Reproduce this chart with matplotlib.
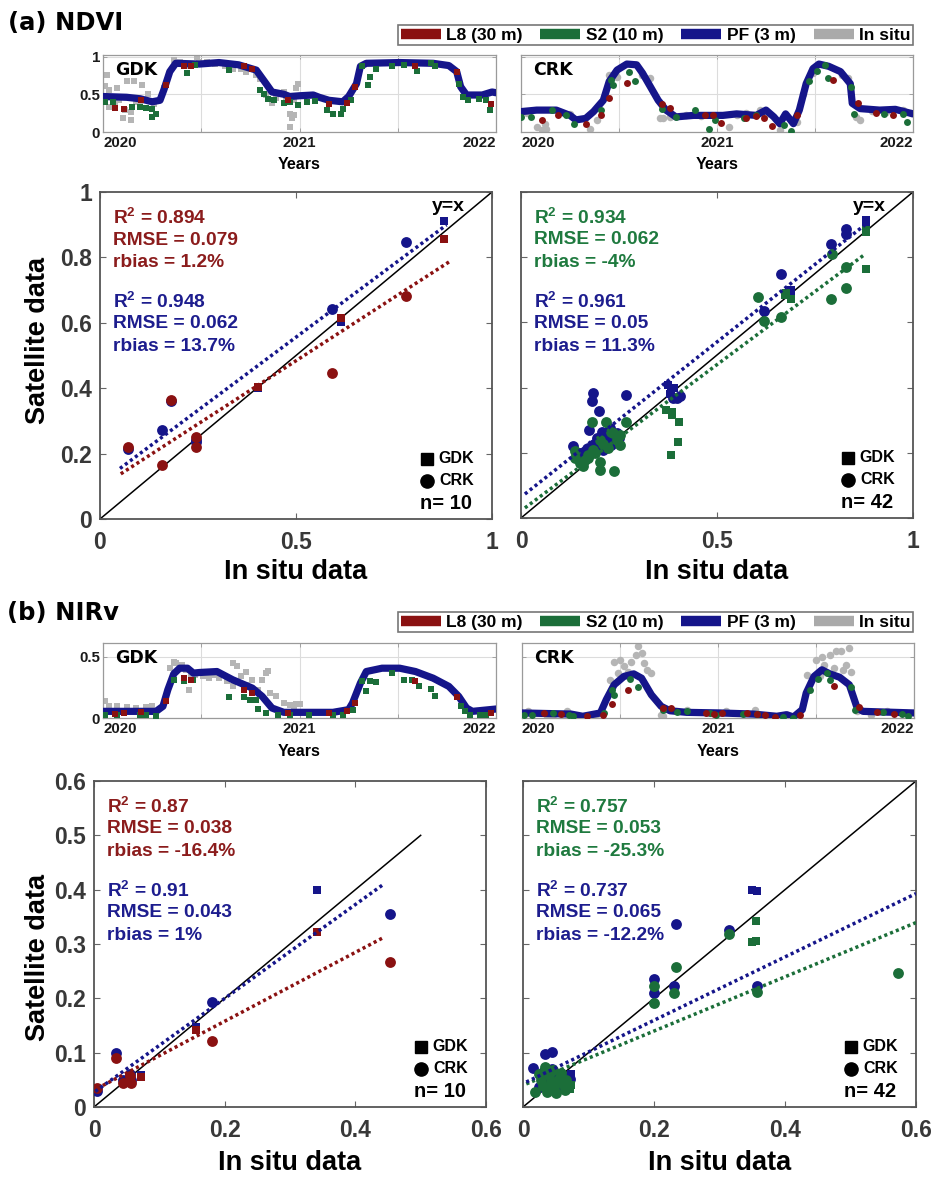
import numpy as np
import matplotlib
matplotlib.use("Agg")
import matplotlib.pyplot as plt
from matplotlib.lines import Line2D

plt.rcParams['font.family'] = ['Liberation Sans', 'DejaVu Sans']
plt.rcParams['font.weight'] = 'bold'
plt.rcParams['mathtext.fontset'] = 'custom'
plt.rcParams['mathtext.rm'] = 'Liberation Sans:bold'
plt.rcParams['mathtext.it'] = 'Liberation Sans:bold'
plt.rcParams['mathtext.bf'] = 'Liberation Sans:bold'

# ── colours ──
RED = '#8a1111'
BLUE = '#15158a'
GREEN = '#1b6e39'
GRAY = '#b5b5b5'
TXT_RED = '#8b1c1c'
TXT_BLUE = '#1d1d8e'
TXT_GREEN = '#1f7a3f'

# ── legend ──
SENSORS = ['L8 (30 m)', 'S2 (10 m)', 'PF (3 m)', 'In situ']

# ──────────────────────────────────────────────
# Time series (decimal year, value)
# ──────────────────────────────────────────────
NDVI_GDK_PF = [(2020.00, 0.47), (2020.12, 0.46), (2020.19, 0.44), (2020.25, 0.40), (2020.29, 0.42),
               (2020.31, 0.56), (2020.34, 0.80), (2020.37, 0.91), (2020.49, 0.90), (2020.59, 0.92),
               (2020.69, 0.89), (2020.78, 0.82), (2020.83, 0.64), (2020.86, 0.53), (2020.92, 0.50),
               (2020.95, 0.47), (2021.00, 0.48), (2021.07, 0.49), (2021.10, 0.46), (2021.15, 0.42),
               (2021.22, 0.40), (2021.25, 0.47), (2021.29, 0.64), (2021.31, 0.87), (2021.34, 0.91),
               (2021.51, 0.92), (2021.68, 0.91), (2021.76, 0.88), (2021.80, 0.80), (2021.82, 0.60),
               (2021.85, 0.49), (2021.93, 0.49), (2021.98, 0.53), (2022.00, 0.52)]
NDVI_GDK_S2 = [(2020.01, 0.40), (2020.05, 0.40), (2020.15, 0.33), (2020.19, 0.33), (2020.22, 0.32),
               (2020.25, 0.30), (2020.25, 0.20), (2020.27, 0.24), (2020.43, 0.78), (2020.47, 0.89),
               (2020.64, 0.82), (2020.80, 0.56), (2020.82, 0.50), (2020.84, 0.44), (2020.87, 0.42),
               (2020.92, 0.38), (2020.95, 0.40), (2020.99, 0.36), (2021.04, 0.40), (2021.08, 0.41),
               (2021.14, 0.29), (2021.17, 0.24), (2021.21, 0.24), (2021.22, 0.30), (2021.26, 0.43),
               (2021.32, 0.88), (2021.35, 0.62), (2021.36, 0.73), (2021.39, 0.83), (2021.47, 0.88),
               (2021.53, 0.89), (2021.60, 0.81), (2021.67, 0.91), (2021.69, 0.87), (2021.81, 0.64),
               (2021.83, 0.46), (2021.86, 0.43), (2021.915, 0.44), (2021.95, 0.42), (2021.97, 0.29)]
NDVI_GDK_L8 = [(2020.06, 0.32), (2020.105, 0.31), (2020.195, 0.42), (2020.32, 0.62), (2020.41, 0.88),
               (2020.45, 0.88), (2020.72, 0.88), (2020.76, 0.84), (2020.94, 0.42), (2021.15, 0.37),
               (2021.24, 0.39), (2021.28, 0.59), (2021.59, 0.88), (2021.80, 0.79), (2021.975, 0.37)]
NDVI_GDK_INSITU = [(2020.02, 0.76), (2020.01, 0.61), (2020.03, 0.56), (2020.07, 0.58), (2020.085, 0.47),
                   (2020.12, 0.67), (2020.16, 0.67), (2020.11, 0.29), (2020.10, 0.18), (2020.14, 0.16),
                   (2020.14, 0.27), (2020.03, 0.33), (2020.06, 0.38), (2020.19, 0.38), (2020.20, 0.62),
                   (2020.23, 0.51), (2020.31, 0.58), (2020.36, 0.96), (2020.39, 0.93), (2020.48, 0.99),
                   (2020.49, 0.93), (2020.53, 0.93), (2020.57, 0.90), (2020.62, 0.87), (2020.66, 0.84),
                   (2020.70, 0.83), (2020.73, 0.80), (2020.78, 0.76), (2020.80, 0.70), (2020.83, 0.49),
                   (2020.86, 0.38), (2020.92, 0.53), (2020.97, 0.42), (2020.95, 0.24), (2020.96, 0.18),
                   (2020.95, 0.07), (2020.97, 0.22), (2020.99, 0.64), (2020.98, 0.58), (2020.93, 0.47),
                   (2020.08, 0.42), (2020.17, 0.40), (2020.26, 0.37), (2020.44, 0.88), (2020.88, 0.45)]

NDVI_CRK_PF = [(2020.00, 0.27), (2020.08, 0.29), (2020.18, 0.29), (2020.25, 0.22), (2020.28, 0.16),
               (2020.33, 0.18), (2020.37, 0.27), (2020.42, 0.42), (2020.45, 0.67), (2020.49, 0.82),
               (2020.54, 0.90), (2020.59, 0.89), (2020.62, 0.78), (2020.66, 0.60), (2020.70, 0.42),
               (2020.74, 0.29), (2020.79, 0.20), (2020.88, 0.22), (2020.96, 0.22), (2021.03, 0.22),
               (2021.10, 0.24), (2021.20, 0.22), (2021.25, 0.29), (2021.29, 0.20), (2021.32, 0.11),
               (2021.35, 0.24), (2021.39, 0.11), (2021.42, 0.29), (2021.455, 0.64), (2021.49, 0.84),
               (2021.52, 0.90), (2021.57, 0.87), (2021.63, 0.80), (2021.68, 0.64), (2021.69, 0.38),
               (2021.73, 0.31), (2021.83, 0.29), (2021.91, 0.30), (2022.00, 0.24)]
NDVI_CRK_S2 = [(2020.00, 0.20), (2020.05, 0.20), (2020.16, 0.29), (2020.23, 0.22), (2020.27, 0.11),
               (2020.41, 0.29), (2020.46, 0.69), (2020.47, 0.62), (2020.55, 0.79), (2020.58, 0.68),
               (2020.72, 0.30), (2020.79, 0.20), (2020.89, 0.29), (2020.96, 0.04), (2020.99, 0.16),
               (2021.14, 0.18), (2021.20, 0.22), (2021.34, 0.09), (2021.38, 0.01), (2021.47, 0.68),
               (2021.51, 0.81), (2021.55, 0.89), (2021.565, 0.71), (2021.685, 0.60), (2021.70, 0.24),
               (2021.85, 0.24), (2021.95, 0.24), (2021.97, 0.13)]
NDVI_CRK_L8 = [(2020.105, 0.16), (2020.19, 0.22), (2020.33, 0.11), (2020.41, 0.22), (2020.45, 0.45),
               (2020.54, 0.65), (2020.72, 0.37), (2020.76, 0.32), (2020.94, 0.22), (2020.98, 0.22),
               (2021.02, 0.12), (2021.15, 0.18), (2021.20, 0.21), (2021.24, 0.18), (2021.28, 0.08),
               (2021.41, 0.22), (2021.59, 0.69), (2021.72, 0.38), (2021.81, 0.25), (2021.90, 0.22)]
NDVI_CRK_INSITU = [(2020.08, 0.07), (2020.105, 0.02), (2020.13, 0.04), (2020.12, 0.10), (2020.35, 0.04),
                   (2020.39, 0.16), (2020.45, 0.76), (2020.49, 0.73), (2020.615, 0.76), (2020.66, 0.71),
                   (2020.71, 0.18), (2020.725, 0.18), (2020.76, 0.20), (2021.06, 0.07), (2021.22, 0.29),
                   (2021.25, 0.24), (2021.32, 0.02), (2021.41, 0.13), (2021.44, 0.51), (2021.49, 0.78),
                   (2021.64, 0.76), (2021.67, 0.71), (2021.71, 0.20), (2021.73, 0.16), (2021.86, 0.27),
                   (2021.95, 0.29), (2020.03, 0.25), (2020.20, 0.27), (2020.25, 0.24), (2020.84, 0.23),
                   (2020.92, 0.21), (2021.10, 0.22), (2021.15, 0.25), (2021.79, 0.28), (2021.99, 0.25)]

NIRV_GDK_PF = [(2020.00, 0.054), (2020.15, 0.054), (2020.27, 0.054), (2020.305, 0.095), (2020.33, 0.23),
               (2020.36, 0.359), (2020.39, 0.405), (2020.43, 0.405), (2020.46, 0.365), (2020.49, 0.37),
               (2020.58, 0.378), (2020.66, 0.311), (2020.76, 0.243), (2020.81, 0.176), (2020.86, 0.081),
               (2020.92, 0.046), (2021.00, 0.046), (2021.17, 0.046), (2021.25, 0.068), (2021.27, 0.122),
               (2021.31, 0.284), (2021.34, 0.378), (2021.42, 0.405), (2021.51, 0.405), (2021.59, 0.378),
               (2021.68, 0.324), (2021.76, 0.257), (2021.81, 0.176), (2021.85, 0.081), (2021.88, 0.054),
               (2022.00, 0.073)]
NIRV_GDK_S2 = [(2020.01, 0.027), (2020.07, 0.027), (2020.19, 0.027), (2020.22, 0.022), (2020.27, 0.019),
               (2020.36, 0.311), (2020.41, 0.305), (2020.46, 0.311), (2020.64, 0.170), (2020.72, 0.168),
               (2020.75, 0.143), (2020.78, 0.149), (2020.79, 0.073), (2020.83, 0.041), (2020.89, 0.027),
               (2020.95, 0.027), (2021.05, 0.027), (2021.17, 0.027), (2021.22, 0.027), (2021.27, 0.068),
               (2021.32, 0.297), (2021.34, 0.222), (2021.36, 0.297), (2021.39, 0.292), (2021.47, 0.370),
               (2021.53, 0.311), (2021.57, 0.311), (2021.61, 0.262), (2021.67, 0.235), (2021.69, 0.176),
               (2021.82, 0.095), (2021.84, 0.054), (2021.87, 0.027), (2021.92, 0.027), (2021.95, 0.027)]
NIRV_GDK_L8 = [(2020.06, 0.035), (2020.105, 0.041), (2020.195, 0.049), (2020.32, 0.135), (2020.41, 0.324),
               (2020.45, 0.311), (2020.72, 0.224), (2020.76, 0.203), (2020.94, 0.041), (2021.15, 0.041),
               (2021.24, 0.054), (2021.28, 0.122), (2021.59, 0.303), (2021.80, 0.170), (2021.975, 0.041)]
NIRV_GDK_INSITU = [(2020.01, 0.135), (2020.03, 0.095), (2020.07, 0.095), (2020.12, 0.089), (2020.17, 0.081),
                   (2020.22, 0.089), (2020.25, 0.095), (2020.36, 0.459), (2020.37, 0.446), (2020.40, 0.432),
                   (2020.42, 0.392), (2020.45, 0.338), (2020.44, 0.230), (2020.47, 0.351), (2020.51, 0.338),
                   (2020.54, 0.324), (2020.59, 0.324), (2020.66, 0.446), (2020.68, 0.419), (2020.73, 0.378),
                   (2020.63, 0.297), (2020.66, 0.257), (2020.73, 0.270), (2020.76, 0.311), (2020.81, 0.311),
                   (2020.83, 0.365), (2020.84, 0.384), (2020.79, 0.230), (2020.85, 0.203), (2020.88, 0.176),
                   (2020.92, 0.122), (2020.95, 0.108), (2020.98, 0.116), (2020.97, 0.081), (2021.00, 0.116),
                   (2020.34, 0.405), (2020.56, 0.351), (2020.70, 0.340)]

NIRV_CRK_PF = [(2020.00, 0.041), (2020.25, 0.032), (2020.31, 0.014), (2020.40, 0.041), (2020.43, 0.149),
               (2020.47, 0.270), (2020.52, 0.338), (2020.57, 0.359), (2020.61, 0.324), (2020.64, 0.243),
               (2020.66, 0.189), (2020.71, 0.095), (2020.755, 0.059), (2020.84, 0.046), (2021.01, 0.041),
               (2021.18, 0.032), (2021.30, 0.014), (2021.35, 0.027), (2021.385, 0.008), (2021.43, 0.068),
               (2021.45, 0.203), (2021.49, 0.338), (2021.53, 0.392), (2021.57, 0.359), (2021.62, 0.332),
               (2021.67, 0.270), (2021.69, 0.176), (2021.71, 0.081), (2021.74, 0.054), (2022.00, 0.041)]
NIRV_CRK_S2 = [(2020.01, 0.027), (2020.05, 0.027), (2020.16, 0.041), (2020.24, 0.027), (2020.26, 0.014),
               (2020.42, 0.041), (2020.46, 0.230), (2020.47, 0.189), (2020.55, 0.319), (2020.59, 0.251),
               (2020.72, 0.062), (2020.79, 0.046), (2020.84, 0.054), (2020.96, 0.041), (2020.99, 0.027),
               (2021.13, 0.032), (2021.20, 0.032), (2021.33, 0.008), (2021.385, 0.002), (2021.47, 0.224),
               (2021.51, 0.316), (2021.555, 0.370), (2021.57, 0.311), (2021.68, 0.251), (2021.70, 0.062),
               (2021.84, 0.046), (2021.94, 0.035), (2021.97, 0.014)]
NIRV_CRK_L8 = [(2020.11, 0.041), (2020.20, 0.032), (2020.33, 0.014), (2020.415, 0.027), (2020.46, 0.116),
               (2020.54, 0.224), (2020.72, 0.081), (2020.76, 0.081), (2020.94, 0.041), (2020.98, 0.032),
               (2021.02, 0.041), (2021.15, 0.041), (2021.20, 0.032), (2021.24, 0.027), (2021.29, 0.008),
               (2021.42, 0.027), (2021.59, 0.262), (2021.72, 0.086), (2021.81, 0.049), (2021.90, 0.035)]
NIRV_CRK_INSITU = [(2020.47, 0.459), (2020.50, 0.473), (2020.52, 0.419), (2020.555, 0.459), (2020.59, 0.589),
                   (2020.61, 0.527), (2020.58, 0.514), (2020.62, 0.446), (2020.64, 0.392), (2020.66, 0.365),
                   (2020.54, 0.378), (2020.49, 0.365), (2020.45, 0.311), (2020.71, 0.027), (2020.72, 0.014),
                   (2020.03, 0.054), (2020.13, 0.014), (2020.16, 0.027), (2020.23, 0.054), (2020.37, 0.000),
                   (2020.38, 0.027), (2020.84, 0.068), (2021.04, 0.054), (2021.19, 0.068), (2021.35, 0.027),
                   (2021.455, 0.351), (2021.50, 0.473), (2021.53, 0.500), (2021.57, 0.514), (2021.60, 0.541),
                   (2021.63, 0.541), (2021.655, 0.432), (2021.67, 0.568), (2021.68, 0.378), (2021.54, 0.432),
                   (2021.59, 0.405), (2021.64, 0.392), (2021.52, 0.338), (2021.71, 0.054), (2021.78, 0.027),
                   (2021.86, 0.054), (2021.96, 0.041)]

# ──────────────────────────────────────────────
# Scatter data (in situ, satellite, site)  S = GDK, C = CRK
# ──────────────────────────────────────────────
SC_NDVI_GDK_L8 = [(0.072, 0.219, 'C'), (0.159, 0.165, 'C'), (0.180, 0.364, 'C'), (0.244, 0.252, 'C'),
                  (0.244, 0.219, 'C'), (0.402, 0.405, 'S'), (0.616, 0.614, 'S'), (0.593, 0.446, 'C'),
                  (0.781, 0.681, 'C'), (0.878, 0.857, 'S')]
SC_NDVI_GDK_PF = [(0.072, 0.213, 'C'), (0.159, 0.272, 'C'), (0.180, 0.360, 'C'), (0.244, 0.242, 'C'),
                  (0.244, 0.235, 'C'), (0.402, 0.402, 'S'), (0.616, 0.602, 'S'), (0.593, 0.643, 'C'),
                  (0.781, 0.846, 'C'), (0.878, 0.912, 'S')]
SC_NDVI_S2_PF = [(0.879, 0.913, 'S'), (0.828, 0.885, 'C'), (0.830, 0.870, 'C'), (0.792, 0.842, 'C'),
                 (0.664, 0.748, 'C'), (0.690, 0.692, 'S'), (0.673, 0.684, 'S'), (0.620, 0.636, 'C'),
                 (0.376, 0.408, 'S'), (0.382, 0.393, 'S'), (0.397, 0.367, 'C'), (0.388, 0.367, 'C'),
                 (0.183, 0.383, 'C'), (0.180, 0.360, 'C'), (0.268, 0.377, 'C'), (0.200, 0.329, 'C'),
                 (0.174, 0.270, 'C'), (0.206, 0.265, 'C'), (0.223, 0.250, 'C'), (0.133, 0.221, 'C'),
                 (0.142, 0.187, 'C'), (0.163, 0.204, 'C'), (0.210, 0.209, 'C'), (0.235, 0.240, 'C'),
                 (0.195, 0.245, 'C'), (0.150, 0.200, 'C'), (0.215, 0.230, 'C'), (0.245, 0.262, 'C'),
                 (0.170, 0.215, 'C'), (0.186, 0.228, 'C'), (0.228, 0.275, 'C'), (0.390, 0.400, 'S'),
                 (0.879, 0.905, 'S'), (0.690, 0.700, 'S'), (0.160, 0.195, 'C'), (0.205, 0.220, 'C'),
                 (0.250, 0.245, 'C'), (0.230, 0.225, 'C'), (0.380, 0.380, 'S'), (0.405, 0.375, 'C'),
                 (0.190, 0.205, 'C'), (0.240, 0.255, 'C')]
SC_NDVI_S2 = [(0.879, 0.883, 'S'), (0.879, 0.765, 'S'), (0.794, 0.811, 'C'), (0.828, 0.770, 'C'),
              (0.830, 0.707, 'C'), (0.790, 0.673, 'C'), (0.605, 0.679, 'C'), (0.673, 0.684, 'S'),
              (0.690, 0.673, 'S'), (0.620, 0.605, 'C'), (0.664, 0.617, 'C'), (0.371, 0.330, 'S'),
              (0.386, 0.316, 'S'), (0.403, 0.294, 'S'), (0.401, 0.233, 'S'), (0.382, 0.194, 'S'),
              (0.180, 0.293, 'C'), (0.218, 0.293, 'C'), (0.269, 0.293, 'C'), (0.235, 0.260, 'C'),
              (0.252, 0.255, 'C'), (0.201, 0.240, 'C'), (0.223, 0.214, 'C'), (0.252, 0.224, 'C'),
              (0.184, 0.209, 'C'), (0.172, 0.194, 'C'), (0.138, 0.204, 'C'), (0.138, 0.184, 'C'),
              (0.159, 0.158, 'C'), (0.163, 0.178, 'C'), (0.201, 0.173, 'C'), (0.201, 0.148, 'C'),
              (0.237, 0.143, 'C'), (0.210, 0.228, 'C'), (0.190, 0.200, 'C'), (0.245, 0.240, 'C'),
              (0.150, 0.170, 'C'), (0.880, 0.878, 'S'), (0.675, 0.690, 'S'), (0.385, 0.325, 'S'),
              (0.170, 0.185, 'C'), (0.230, 0.265, 'C')]

SC_NIRV_GDK_L8 = [(0.342, 0.323, 'S'), (0.453, 0.266, 'C'), (0.180, 0.121, 'C'), (0.156, 0.141, 'S'),
                  (0.072, 0.056, 'S'), (0.033, 0.090, 'C'), (0.005, 0.035, 'C'), (0.044, 0.045, 'C'),
                  (0.057, 0.044, 'C'), (0.055, 0.057, 'C')]
SC_NIRV_GDK_PF = [(0.342, 0.400, 'S'), (0.453, 0.355, 'C'), (0.180, 0.193, 'C'), (0.156, 0.148, 'S'),
                  (0.072, 0.058, 'S'), (0.033, 0.099, 'C'), (0.005, 0.029, 'C'), (0.044, 0.050, 'C'),
                  (0.057, 0.050, 'C'), (0.055, 0.060, 'C')]
SC_NIRV_S2_PF = [(0.350, 0.399, 'S'), (0.357, 0.397, 'S'), (0.233, 0.336, 'C'), (0.314, 0.325, 'C'),
                 (0.200, 0.235, 'C'), (0.200, 0.209, 'C'), (0.230, 0.223, 'C'), (0.358, 0.223, 'C'),
                 (0.033, 0.098, 'C'), (0.045, 0.101, 'C'), (0.016, 0.071, 'C'), (0.031, 0.064, 'C'),
                 (0.074, 0.061, 'S'), (0.071, 0.052, 'C'), (0.025, 0.037, 'C'), (0.040, 0.050, 'C'),
                 (0.050, 0.060, 'C'), (0.060, 0.045, 'C'), (0.035, 0.040, 'C'), (0.055, 0.035, 'C'),
                 (0.045, 0.070, 'C'), (0.065, 0.055, 'C')]
SC_NIRV_S2 = [(0.356, 0.342, 'S'), (0.350, 0.304, 'S'), (0.356, 0.305, 'S'), (0.314, 0.319, 'C'),
              (0.233, 0.257, 'C'), (0.230, 0.209, 'C'), (0.200, 0.223, 'C'), (0.200, 0.191, 'C'),
              (0.358, 0.212, 'C'), (0.572, 0.247, 'C'), (0.033, 0.074, 'C'), (0.046, 0.068, 'C'),
              (0.056, 0.055, 'C'), (0.028, 0.049, 'C'), (0.043, 0.046, 'C'), (0.061, 0.043, 'C'),
              (0.071, 0.034, 'S'), (0.018, 0.028, 'C'), (0.036, 0.028, 'C'), (0.051, 0.025, 'C'),
              (0.064, 0.031, 'C'), (0.040, 0.058, 'C'), (0.052, 0.048, 'C'), (0.030, 0.038, 'C'),
              (0.066, 0.050, 'C'), (0.074, 0.040, 'S'), (0.024, 0.060, 'C'), (0.048, 0.036, 'C'),
              (0.058, 0.062, 'C'), (0.038, 0.033, 'C')]

# regression lines: (slope, intercept, x_start, x_end)
FIT_NDVI_L8 = (0.774, 0.097, 0.053, 0.893)
FIT_NDVI_PF_A = (0.894, 0.109, 0.051, 0.884)
FIT_NDVI_S2 = (0.897, 0.022, 0.010, 0.877)
FIT_NDVI_PF_B = (0.952, 0.064, 0.010, 0.877)
FIT_NIRV_L8 = (0.634, 0.031, 0.005, 0.443)
FIT_NIRV_PF_A = (0.864, 0.027, 0.002, 0.443)
FIT_NIRV_S2 = (0.499, 0.040, 0.005, 0.600)
FIT_NIRV_PF_B = (0.583, 0.043, 0.005, 0.600)

STATS = {
    'ndvi_l8': ['R$^2$ = 0.894', 'RMSE = 0.079', 'rbias = 1.2%'],
    'ndvi_pf_a': ['R$^2$ = 0.948', 'RMSE = 0.062', 'rbias = 13.7%'],
    'ndvi_s2': ['R$^2$ = 0.934', 'RMSE = 0.062', 'rbias = -4%'],
    'ndvi_pf_b': ['R$^2$ = 0.961', 'RMSE = 0.05', 'rbias = 11.3%'],
    'nirv_l8': ['R$^2$ = 0.87', 'RMSE = 0.038', 'rbias = -16.4%'],
    'nirv_pf_a': ['R$^2$ = 0.91', 'RMSE = 0.043', 'rbias = 1%'],
    'nirv_s2': ['R$^2$ = 0.757', 'RMSE = 0.053', 'rbias = -25.3%'],
    'nirv_pf_b': ['R$^2$ = 0.737', 'RMSE = 0.065', 'rbias = -12.2%'],
}
N_SAMPLES = [10, 42, 10, 42]
YX_END = [1.0, 1.0, 0.5, 0.6]


def px_ax(fig, x0, y0, x1, y1):
    """axes from pixel box (top-left origin)"""
    W, H = 938.0, 1178.0
    return fig.add_axes([x0 / W, 1 - y1 / H, (x1 - x0) / W, (y1 - y0) / H])


def draw_ts(ax, site, insitu, pf, s2, l8, ylim, yticks, ylabels, mk, first_col):
    ins = np.array(insitu); p = np.array(pf); s = np.array(s2); l = np.array(l8)
    ms = 4.0 if mk == 's' else 5.0
    ax.plot(ins[:, 0], ins[:, 1], ls='none', marker=mk, ms=ms + 0.4, color=GRAY, mew=0, zorder=2)
    ax.plot(p[:, 0], p[:, 1], color=BLUE, lw=5.2, solid_capstyle='round',
            solid_joinstyle='round', zorder=3)
    ax.plot(s[:, 0], s[:, 1], ls='none', marker=mk, ms=ms, color=GREEN, mew=0, zorder=4)
    ax.plot(l[:, 0], l[:, 1], ls='none', marker=mk, ms=ms, color=RED, mew=0, zorder=5)

    ax.set_xlim(2020, 2022)
    ax.set_ylim(*ylim)
    ax.set_xticks([2020, 2020.5, 2021, 2021.5, 2022])
    ax.set_xticklabels(['2020', '', '2021', '', '2022'])
    ax.set_yticks(yticks)
    ax.set_yticklabels(ylabels if first_col else [''] * len(yticks))
    tl = ax.get_xticklabels()
    tl[0].set_ha('left'); tl[-1].set_ha('right')
    ax.grid(True, color='#dcdcdc', lw=0.8)
    ax.tick_params(direction='in', top=True, right=True, length=3, width=0.6,
                   labelsize=10.8, colors='#999999', labelcolor='#1a1a1a', pad=3)
    ax.tick_params(axis='y', pad=2)
    for sp in ax.spines.values():
        sp.set_color('#9a9a9a'); sp.set_linewidth(0.9)
    ax.text(0.03, 0.80, site, transform=ax.transAxes, fontsize=12.5, family='DejaVu Sans',
            fontweight='bold', va='center', ha='left', color='k', zorder=6)


def draw_scatter(ax, idx, sat, pf, sat_color, sat_txt, fit_sat, fit_pf, st_sat, st_pf,
                 lim, ticks, ticklabels, first_col, show_yx):
    ax.plot([0, YX_END[idx]], [0, YX_END[idx]], color='k', lw=1.1, zorder=2)
    for data, col, z in ((pf, BLUE, 3), (sat, sat_color, 4)):
        xs = np.array([d[0] for d in data]); ys = np.array([d[1] for d in data])
        site = np.array([d[2] for d in data])
        sq = site == 'S'
        ax.plot(xs[~sq], ys[~sq], ls='none', marker='o', ms=7.8, color=col, mew=0, zorder=z)
        ax.plot(xs[sq], ys[sq], ls='none', marker='s', ms=5.8, color=col, mew=0, zorder=z)
    for fit, col in ((fit_sat, sat_color), (fit_pf, BLUE)):
        k, b, xa, xb = fit
        xx = np.array([xa, xb])
        ax.plot(xx, k * xx + b, color=col, lw=2.5, ls=(0, (0.9, 0.9)), zorder=5)

    ax.set_xlim(*lim); ax.set_ylim(*lim)
    ax.set_xticks(ticks[0]); ax.set_xticklabels(ticklabels[0])
    ax.set_yticks(ticks[1])
    ax.set_yticklabels(ticklabels[1] if first_col else [''] * len(ticks[1]))
    ax.tick_params(direction='in', top=True, right=True, length=4, width=0.8,
                   labelsize=16.5, colors='#666666', labelcolor='#383838')
    ax.tick_params(axis='x', pad=8.5)
    ax.tick_params(axis='y', pad=5.5)
    for sp in ax.spines.values():
        sp.set_color('#555555'); sp.set_linewidth(1.3)

    for i, line in enumerate(st_sat):
        ax.text(0.034, [0.92, 0.853, 0.783][i], line, transform=ax.transAxes, color=sat_txt,
                fontsize=13.8, fontweight='bold', va='center', ha='left')
    for i, line in enumerate(st_pf):
        ax.text(0.034, [0.663, 0.597, 0.527][i], line, transform=ax.transAxes, color=TXT_BLUE,
                fontsize=13.8, fontweight='bold', va='center', ha='left')
    if show_yx:
        ax.text(0.93, 0.955, 'y=x', transform=ax.transAxes, fontsize=14, fontweight='bold',
                ha='right', va='center', color='k')
    # site key
    ax.plot([0.835], [0.185], marker='s', ms=8.5, color='k', transform=ax.transAxes, ls='none')
    ax.plot([0.835], [0.117], marker='o', ms=9.5, color='k', transform=ax.transAxes, ls='none')
    ax.text(0.955, 0.185, 'GDK', transform=ax.transAxes, fontsize=11.5, ha='right', va='center')
    ax.text(0.955, 0.117, 'CRK', transform=ax.transAxes, fontsize=11.5, ha='right', va='center')
    ax.text(0.95, 0.047, f'n= {N_SAMPLES[idx]}', transform=ax.transAxes, fontsize=14.5,
            ha='right', va='center')
    ax.set_xlabel('In situ data', fontsize=19.5, fontweight='bold', va='center')


fig = plt.figure(figsize=(9.38, 11.78), dpi=100)

# ── legends ──
handles = [Line2D([], [], color=c, lw=7.5, solid_capstyle='butt') for c in (RED, GREEN, BLUE, '#aaaaaa')]
for ytop in (23, 610):
    leg = fig.legend(handles, SENSORS, loc='center',
                     bbox_to_anchor=(398 / 938, 1 - (ytop + 24) / 1178, 515 / 938, 24 / 1178),
                     mode='expand', ncol=4, fontsize=12.5, frameon=True, fancybox=False,
                     handlelength=2.3, handletextpad=0.3, columnspacing=0.9, borderpad=0.15,
                     borderaxespad=0)
    leg.get_frame().set_edgecolor('#555555')
    leg.get_frame().set_linewidth(1.2)

fig.text(8 / 938, 1 - 23 / 1178, '(a) NDVI', fontsize=17.5, family='DejaVu Sans',
         fontweight='bold', va='center', ha='left')
fig.text(7 / 938, 1 - 613 / 1178, '(b) NIRv', fontsize=17.5, family='DejaVu Sans',
         fontweight='bold', va='center', ha='left')

# ── (a) time series ──
ax = px_ax(fig, 103, 55, 496, 132)
draw_ts(ax, 'GDK', NDVI_GDK_INSITU, NDVI_GDK_PF, NDVI_GDK_S2, NDVI_GDK_L8,
        (0, 1.02), [0, 0.5, 1], ['0', '0.5', '1'], 's', True)
ax.set_xlabel('Years', fontsize=11.5, fontweight='bold')
ax.xaxis.set_label_coords(0.5, -0.33)
ax = px_ax(fig, 521, 55, 913, 132)
draw_ts(ax, 'CRK', NDVI_CRK_INSITU, NDVI_CRK_PF, NDVI_CRK_S2, NDVI_CRK_L8,
        (0, 1.02), [0, 0.5, 1], ['0', '0.5', '1'], 'o', False)
ax.set_xlabel('Years', fontsize=11.5, fontweight='bold')
ax.xaxis.set_label_coords(0.5, -0.33)

# ── (a) scatter ──
tk_a = ([0, 0.5, 1], [0, 0.2, 0.4, 0.6, 0.8, 1])
tl_a = (['0', '0.5', '1'], ['0', '0.2', '0.4', '0.6', '0.8', '1'])
ax = px_ax(fig, 100, 192, 492, 519)
draw_scatter(ax, 0, SC_NDVI_GDK_L8, SC_NDVI_GDK_PF, RED, TXT_RED, FIT_NDVI_L8, FIT_NDVI_PF_A,
             STATS['ndvi_l8'], STATS['ndvi_pf_a'], (0, 1), tk_a, tl_a, True, True)
ax.xaxis.set_label_coords(0.5, -0.163)
ax.set_ylabel('Satellite data', fontsize=19.5, fontweight='bold', va='center')
ax.yaxis.set_label_coords(-0.158, 0.547)
ax = px_ax(fig, 521, 192, 913, 518)
draw_scatter(ax, 1, SC_NDVI_S2, SC_NDVI_S2_PF, GREEN, TXT_GREEN, FIT_NDVI_S2, FIT_NDVI_PF_B,
             STATS['ndvi_s2'], STATS['ndvi_pf_b'], (0, 1), tk_a, tl_a, False, True)
ax.xaxis.set_label_coords(0.5, -0.165)

# ── (b) time series ──
ax = px_ax(fig, 103, 643, 496, 718)
draw_ts(ax, 'GDK', NIRV_GDK_INSITU, NIRV_GDK_PF, NIRV_GDK_S2, NIRV_GDK_L8,
        (0, 0.61), [0, 0.5], ['0', '0.5'], 's', True)
ax.set_xlabel('Years', fontsize=11.5, fontweight='bold')
ax.xaxis.set_label_coords(0.5, -0.34)
ax = px_ax(fig, 522, 643, 914, 718)
draw_ts(ax, 'CRK', NIRV_CRK_INSITU, NIRV_CRK_PF, NIRV_CRK_S2, NIRV_CRK_L8,
        (0, 0.61), [0, 0.5], ['0', '0.5'], 'o', False)
ax.set_xlabel('Years', fontsize=11.5, fontweight='bold')
ax.xaxis.set_label_coords(0.5, -0.34)

# ── (b) scatter ──
tk_b = ([0, 0.2, 0.4, 0.6], [0, 0.1, 0.2, 0.3, 0.4, 0.5, 0.6])
tl_b = (['0', '0.2', '0.4', '0.6'], ['0', '0.1', '0.2', '0.3', '0.4', '0.5', '0.6'])
ax = px_ax(fig, 94, 781, 486, 1107)
draw_scatter(ax, 2, SC_NIRV_GDK_L8, SC_NIRV_GDK_PF, RED, TXT_RED, FIT_NIRV_L8, FIT_NIRV_PF_A,
             STATS['nirv_l8'], STATS['nirv_pf_a'], (0, 0.6), tk_b, tl_b, True, False)
ax.xaxis.set_label_coords(0.5, -0.172)
ax.set_ylabel('Satellite data', fontsize=19.5, fontweight='bold', va='center')
ax.yaxis.set_label_coords(-0.143, 0.46)
ax = px_ax(fig, 523, 781, 916, 1107)
draw_scatter(ax, 3, SC_NIRV_S2, SC_NIRV_S2_PF, GREEN, TXT_GREEN, FIT_NIRV_S2, FIT_NIRV_PF_B,
             STATS['nirv_s2'], STATS['nirv_pf_b'], (0, 0.6), tk_b, tl_b, False, False)
ax.xaxis.set_label_coords(0.5, -0.172)

fig.savefig('out.png', dpi=100)
